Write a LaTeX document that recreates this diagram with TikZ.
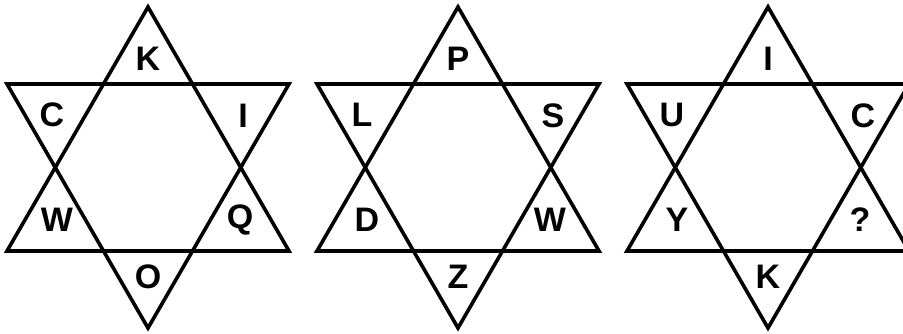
\documentclass[tikz,border=0pt]{standalone}
\usepackage{fontspec}
\setmainfont{Liberation Sans}
\usetikzlibrary{positioning}
\tikzset{
  starline/.style={line width=3.6pt,line join=miter},
  letter/.style={inner sep=0pt}
}

\begin{document}
\begin{tikzpicture}[x=1pt,y=1pt,font=\fontsize{34}{36}\selectfont\bfseries]
  \useasboundingbox (0,0) rectangle (903,334);
  \clip (0,0) rectangle (903,334);
  % one star per puzzle: up triangle, down triangle, six letters
  \foreach \cx/\s/\ta/\tb/\tc/\td/\te/\tf in {148/a/K/C/I/W/Q/O, 458/b/P/L/S/D/W/Z, 768/c/I/U/C/Y/?/K}{
    \draw[starline] (\cx,327) -- (\cx-141,83) -- (\cx+141,83) -- cycle;
    \draw[starline] (\cx,6) -- (\cx-141,250) -- (\cx+141,250) -- cycle;
    \node[letter] (\s-top) at (\cx,275) {\ta};
    \node[letter] (\s-tl) at (\cx-96,219) {\tb};
    \node[letter] (\s-tr) at (\cx+95,218) {\tc};
    \node[letter] (\s-bl) at (\cx-91,114) {\td};
    \node[letter] (\s-br) at (\cx+92,114) {\te};
    \node[letter] (\s-bot) at (\cx,57) {\tf};}
\end{tikzpicture}
\end{document}
